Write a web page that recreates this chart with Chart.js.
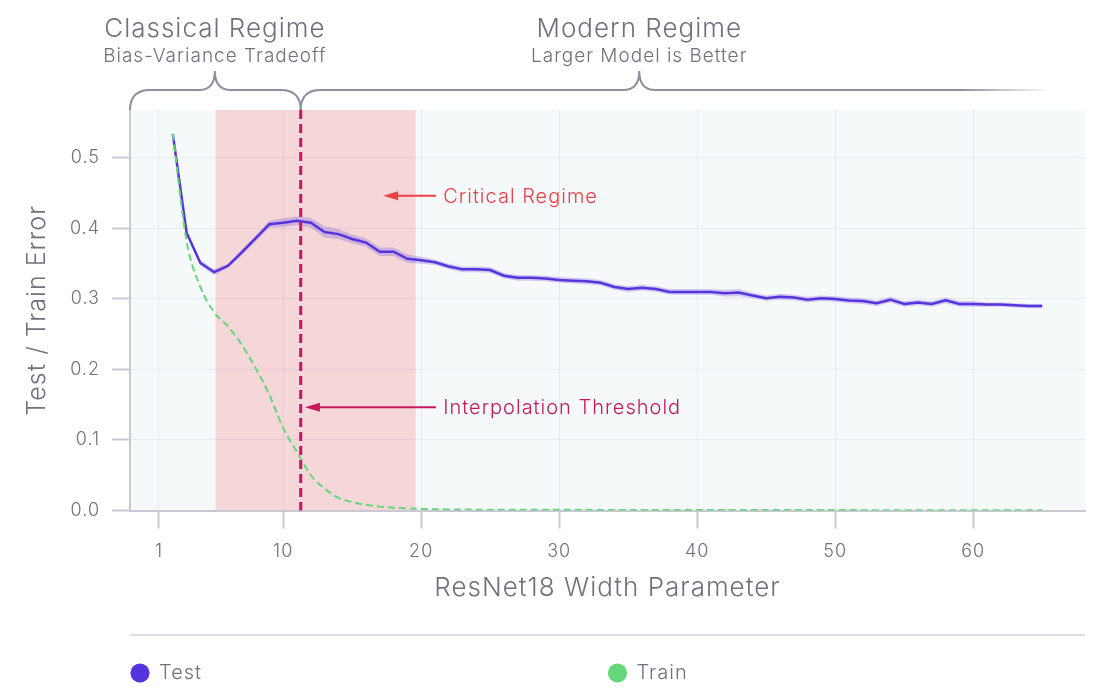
<!DOCTYPE html>
<html>
<head>
<meta charset="utf-8">
<script src="https://cdn.jsdelivr.net/npm/chart.js@4.4.1/dist/chart.umd.min.js"></script>
<style>
  html, body { margin: 0; padding: 0; background: #fff; }
  #wrap { width: 1108px; height: 694px; position: relative; }
</style>
</head>
<body>
<div id="wrap"><canvas id="ddChart"></canvas></div>
<script>
// ResNet18 width (x position of each point)
const widths = [2, 3, 4, 5, 6, 7, 8, 9, 10, 11, 12, 13, 14, 15, 16, 17, 18, 19, 20, 21,
  22, 23, 24, 25, 26, 27, 28, 29, 30, 31, 32, 33, 34, 35, 36, 37, 38, 39, 40, 41,
  42, 43, 44, 45, 46, 47, 48, 49, 50, 51, 52, 53, 54, 55, 56, 57, 58, 59, 60, 61,
  62, 63, 64, 65];

const testError = [0.534, 0.394, 0.351, 0.338, 0.347, 0.366, 0.386, 0.406, 0.408, 0.411,
  0.408, 0.395, 0.392, 0.385, 0.380, 0.367, 0.367, 0.357, 0.355, 0.352,
  0.346, 0.342, 0.342, 0.341, 0.333, 0.330, 0.330, 0.329, 0.327, 0.326,
  0.325, 0.323, 0.317, 0.314, 0.316, 0.314, 0.310, 0.310, 0.310, 0.310,
  0.308, 0.309, 0.305, 0.301, 0.303, 0.302, 0.299, 0.301, 0.300, 0.298,
  0.297, 0.294, 0.299, 0.293, 0.295, 0.293, 0.298, 0.293, 0.293, 0.292,
  0.292, 0.291, 0.290, 0.290];

// half width of the shaded band round the test curve
const testSpread = [0.002, 0.003, 0.004, 0.004, 0.003, 0.004, 0.004, 0.005, 0.006, 0.006,
  0.007, 0.008, 0.007, 0.006, 0.006, 0.006, 0.006, 0.006, 0.005, 0.004,
  0.004, 0.004, 0.004, 0.004, 0.004, 0.004, 0.004, 0.004, 0.004, 0.004,
  0.004, 0.004, 0.004, 0.004, 0.004, 0.004, 0.004, 0.004, 0.004, 0.004,
  0.005, 0.005, 0.004, 0.004, 0.004, 0.004, 0.004, 0.004, 0.004, 0.004,
  0.004, 0.004, 0.004, 0.004, 0.004, 0.004, 0.004, 0.004, 0.004, 0.003,
  0.003, 0.003, 0.003, 0.003];

const trainError = [0.534, 0.382, 0.317, 0.281, 0.261, 0.235, 0.202, 0.164, 0.117, 0.083,
  0.050, 0.031, 0.018, 0.012, 0.008, 0.0055, 0.004, 0.003, 0.0022, 0.0018,
  0.0015, 0.0013, 0.0012, 0.0011, 0.001, 0.001, 0.001, 0.001, 0.001, 0.0009,
  0.0009, 0.0008, 0.0008, 0.0008, 0.0008, 0.0008, 0.0008, 0.0007, 0.0007, 0.0007,
  0.0007, 0.0007, 0.0006, 0.0006, 0.0006, 0.0006, 0.0006, 0.0006, 0.0006, 0.0006,
  0.0005, 0.0005, 0.0005, 0.0005, 0.0005, 0.0005, 0.0005, 0.0005, 0.0005, 0.0005,
  0.0005, 0.0005, 0.0005, 0.0005];

const xTicks = [1, 10, 20, 30, 40, 50, 60];
const yTicks = [0, 0.1, 0.2, 0.3, 0.4, 0.5];
const seriesNames = ['Test', 'Train'];

const criticalRange = [5.1, 19.6];
const threshold = 11.27;

const regimeTitles = ['Classical Regime', 'Modern Regime'];
const regimeSubtitles = ['Bias-Variance Tradeoff', 'Larger Model is Better'];
const noteLabels = ['Critical Regime', 'Interpolation Threshold'];

// layout bits (data units)
const regimeTips = [5.05, 35.8];
const modernEnd = 65.6;
const notes = [
  { y: 0.4465, tip: 17.24, color: '#ee4049' },
  { y: 0.1464, tip: 11.57, color: '#c4195c' }
];
const noteStart = 21.07;
const noteTextX = 21.6;

const FONT = 'Inter, "Noto Sans", sans-serif';
const TEXT = '#70707f';
const AXIS = '#c9c9d4';
const GRID = 'rgba(70, 70, 110, 0.08)';
const PURPLE = '#5533dd';
const GREEN = '#66d67a';
const LS = '1px';

const pts = vals => widths.map((w, i) => ({ x: w, y: vals[i] }));

function arrow(ctx, x0, x1, y, color) {
  ctx.strokeStyle = color;
  ctx.fillStyle = color;
  ctx.lineWidth = 2;
  ctx.beginPath();
  ctx.moveTo(x0, y);
  ctx.lineTo(x1 + 10, y);
  ctx.stroke();
  ctx.beginPath();
  ctx.moveTo(x1, y);
  ctx.lineTo(x1 + 15, y - 4.5);
  ctx.lineTo(x1 + 15, y + 4.5);
  ctx.closePath();
  ctx.fill();
}

function brace(ctx, x0, x1, tip, top, fade) {
  const y = top - 20, ty = top - 39;
  ctx.beginPath();
  ctx.moveTo(x0, top);
  ctx.quadraticCurveTo(x0, y, x0 + 20, y);
  ctx.lineTo(tip - 16, y);
  ctx.quadraticCurveTo(tip, y, tip, ty);
  ctx.quadraticCurveTo(tip, y, tip + 16, y);
  if (fade) {
    ctx.lineTo(x1, y);
  } else {
    ctx.lineTo(x1 - 20, y);
    ctx.quadraticCurveTo(x1, y, x1, top);
  }
  ctx.stroke();
}

const decor = {
  id: 'decor',
  beforeLayout(chart) { chart.ctx.letterSpacing = LS; },
  beforeDraw(chart) {
    const { ctx, chartArea: a, scales: { x } } = chart;
    ctx.save();
    ctx.fillStyle = '#f6f9fa';
    ctx.fillRect(a.left, a.top, a.right - a.left, a.bottom - a.top);
    const b0 = x.getPixelForValue(criticalRange[0]);
    const b1 = x.getPixelForValue(criticalRange[1]);
    ctx.fillStyle = '#f5d6d9';
    ctx.fillRect(b0, a.top, b1 - b0, a.bottom - a.top);
    ctx.restore();
    ctx.letterSpacing = LS;
  },
  afterDatasetsDraw(chart) {
    const { ctx, chartArea: a, scales: { x, y } } = chart;
    ctx.save();
    const tx = x.getPixelForValue(threshold);
    ctx.strokeStyle = '#c4195c';
    ctx.lineWidth = 3;
    ctx.setLineDash([9, 5]);
    ctx.beginPath();
    ctx.moveTo(tx, a.top);
    ctx.lineTo(tx, a.bottom);
    ctx.stroke();
    ctx.setLineDash([]);

    ctx.letterSpacing = LS;
    ctx.font = '300 20px ' + FONT;
    ctx.textBaseline = 'middle';
    ctx.textAlign = 'left';
    notes.forEach((n, i) => {
      const py = y.getPixelForValue(n.y);
      arrow(ctx, x.getPixelForValue(noteStart), x.getPixelForValue(n.tip), py, n.color);
      ctx.fillStyle = n.color;
      ctx.fillText(noteLabels[i], x.getPixelForValue(noteTextX), py + 1);
    });
    ctx.restore();
  },
  afterDraw(chart) {
    const { ctx, chartArea: a, scales: { x } } = chart;
    ctx.save();
    ctx.letterSpacing = LS;
    const tx = x.getPixelForValue(threshold);
    const tips = regimeTips.map(v => x.getPixelForValue(v));
    const endX = x.getPixelForValue(modernEnd);

    ctx.lineWidth = 2;
    ctx.strokeStyle = '#8e8e9e';
    brace(ctx, a.left, tx, tips[0], a.top, false);
    const g = ctx.createLinearGradient(endX - 90, 0, endX, 0);
    g.addColorStop(0, 'rgba(142,142,158,1)');
    g.addColorStop(1, 'rgba(142,142,158,0)');
    ctx.strokeStyle = g;
    brace(ctx, tx, endX, tips[1], a.top, true);

    ctx.fillStyle = TEXT;
    ctx.textAlign = 'center';
    ctx.textBaseline = 'alphabetic';
    tips.forEach((t, i) => {
      ctx.font = '300 26px ' + FONT;
      ctx.fillText(regimeTitles[i], t, 37);
      ctx.font = '300 19px ' + FONT;
      ctx.fillText(regimeSubtitles[i], t, 62);
    });

    // legend
    ctx.strokeStyle = '#dcdce3';
    ctx.lineWidth = 2;
    ctx.beginPath();
    ctx.moveTo(a.left, 635);
    ctx.lineTo(a.right, 635);
    ctx.stroke();
    const colW = (a.right - a.left) / 2;
    const colors = [PURPLE, GREEN];
    ctx.font = '300 20px ' + FONT;
    ctx.textAlign = 'left';
    ctx.textBaseline = 'middle';
    seriesNames.forEach((name, i) => {
      const cx = a.left + i * colW + 10;
      ctx.fillStyle = colors[i];
      ctx.beginPath();
      ctx.arc(cx, 673, 9.6, 0, Math.PI * 2);
      ctx.fill();
      ctx.fillStyle = TEXT;
      ctx.fillText(name, cx + 19, 673);
    });
    ctx.restore();
  }
};

const ctx = document.getElementById('ddChart').getContext('2d');

const ddChart = new Chart(ctx, {
  type: 'line',
  data: {
    datasets: [
      {
        label: seriesNames[1],
        data: pts(trainError),
        borderColor: GREEN,
        borderWidth: 2,
        borderDash: [7, 4],
        cubicInterpolationMode: 'monotone',
        pointRadius: 0,
        fill: false
      },
      {
        label: seriesNames[0],
        data: pts(testError),
        borderColor: PURPLE,
        borderWidth: 2.5,
        tension: 0,
        pointRadius: 0,
        fill: false
      },
      {
        label: 'upper',
        data: pts(testError.map((v, i) => v + testSpread[i])),
        borderWidth: 0,
        pointRadius: 0,
        backgroundColor: 'rgba(125, 95, 225, 0.32)',
        fill: '+1'
      },
      {
        label: 'lower',
        data: pts(testError.map((v, i) => v - testSpread[i])),
        borderWidth: 0,
        pointRadius: 0,
        fill: false
      }
    ]
  },
  options: {
    responsive: true,
    maintainAspectRatio: false,
    animation: false,
    layout: { padding: { top: 110, right: 23, left: 0, bottom: 83.5 } },
    plugins: {
      legend: { display: false },
      tooltip: { enabled: false }
    },
    scales: {
      x: {
        type: 'linear',
        min: -1.1,
        max: 68.1,
        afterBuildTicks: s => { s.ticks = xTicks.map(v => ({ value: v })); },
        afterFit: s => { s.height = 100; },
        grid: { color: GRID, tickColor: AXIS, tickLength: 18, tickWidth: 2, lineWidth: 1 },
        border: { color: AXIS, width: 2 },
        ticks: {
          color: TEXT,
          font: { family: FONT, size: 18, weight: 300 },
          padding: 12,
          maxRotation: 0,
          autoSkip: false,
          callback: v => String(v)
        },
        title: {
          display: true,
          text: 'ResNet18 Width Parameter',
          color: TEXT,
          font: { family: FONT, size: 26, weight: 300 },
          padding: { top: 0, bottom: 7 }
        }
      },
      y: {
        min: 0,
        max: 0.568,
        afterBuildTicks: s => { s.ticks = yTicks.map(v => ({ value: v })); },
        afterFit: s => { s.width = 130; },
        grid: { color: GRID, tickColor: AXIS, tickLength: 18, tickWidth: 2, lineWidth: 1 },
        border: { color: AXIS, width: 2 },
        ticks: {
          color: TEXT,
          font: { family: FONT, size: 18, weight: 300 },
          padding: 12,
          callback: v => v.toFixed(1)
        },
        title: {
          display: true,
          text: 'Test / Train Error',
          color: TEXT,
          font: { family: FONT, size: 25, weight: 300 },
          padding: { top: 22, bottom: 0 }
        }
      }
    }
  },
  plugins: [decor]
});
</script>
</body>
</html>
